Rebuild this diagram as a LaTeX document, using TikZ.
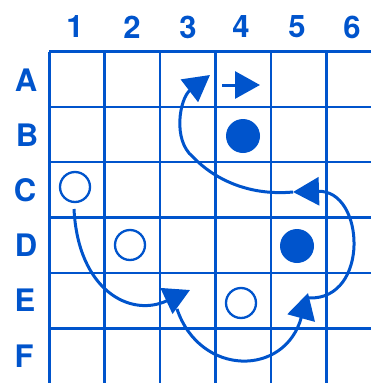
\documentclass[tikz,border=0pt]{standalone}
\usepackage{fontspec}
\setmainfont{TeX Gyre Heros}
\usetikzlibrary{arrows.meta}
\definecolor{ink}{RGB}{0,84,204}
\tikzset{
  gridline/.style={ink, line width=2.7pt},
  lab/.style={ink, inner sep=0pt, font=\bfseries\fontsize{31}{31}\selectfont},
  opencirc/.style={circle, draw=ink, line width=2.3pt, minimum size=30pt, inner sep=0pt},
  fullcirc/.style={circle, fill=ink, minimum size=34pt, inner sep=0pt},
  move/.style={ink, line width=3pt, -{Triangle[length=26pt 0 0,width=28pt 0 0]}},
}
\begin{document}
\begin{tikzpicture}[x=1pt,y=-1pt]
\useasboundingbox (0,0) rectangle (371,383);
% grid
\foreach \x in {49.2,104.6,160,215.5,271,326.6} \draw[gridline] (\x,51.7) -- (\x,383);
\foreach \y in {51.7,106.9,162,217.5,273,328.5} \draw[gridline] (49.2,\y) -- (371,\y);
% labels
\node[lab] (l1) at (75,27) {1};
\node[lab] (l2) at (132,27) {2};
\node[lab] (l3) at (188,27) {3};
\node[lab] (l4) at (241,27) {4};
\node[lab] (l5) at (297,27) {5};
\node[lab] (l6) at (352,27) {6};
\node[lab] (rA) at (26,80) {A};
\node[lab] (rB) at (27,135) {B};
\node[lab] (rC) at (25,190) {C};
\node[lab] (rD) at (26,245) {D};
\node[lab] (rE) at (25,300) {E};
\node[lab] (rF) at (24,356) {F};
% circles
\node[opencirc] (c1) at (75,187) {};
\node[opencirc] (d2) at (130,245) {};
\node[opencirc] (e4) at (241,303) {};
\node[fullcirc] (b4) at (243,136) {};
\node[fullcirc] (d5) at (297,246) {};
% arrow in A4
\coordinate (a4s) at (222,85);
\coordinate (a4t) at (260,85);
\draw[ink, line width=3pt, -{Triangle[length=25pt 0 0,width=27pt 0 0]}] (a4s) -- (a4t);
% moves
\coordinate (s1) at (74,209);
\coordinate (t1) at (190,290);
\draw[move] (s1) .. controls (78,290) and (130,318) .. (t1);
\coordinate (s2) at (177,309);
\coordinate (t2) at (308,293);
\draw[move] (s2) .. controls (200,377) and (285,377) .. (t2);
\coordinate (s3) at (309,298);
\coordinate (t3) at (293,192);
\draw[move] (s3) .. controls (370,300) and (365,190) .. (t3);
\coordinate (m4) at (193,157);
\coordinate (t4) at (210,75);
\draw[move] (t3) .. controls (250,196) and (215,180) .. (m4) .. controls (172,140) and (180,98) .. (t4);
\end{tikzpicture}
\end{document}
